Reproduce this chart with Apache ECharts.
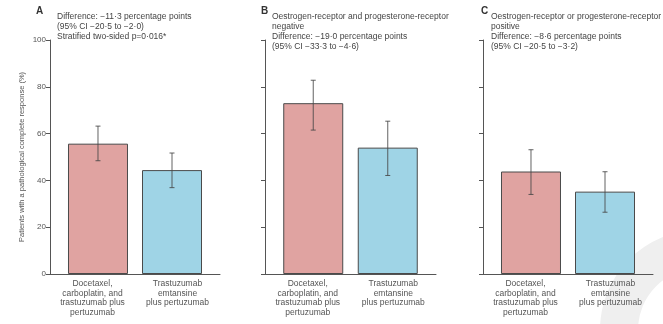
<!DOCTYPE html>
<html>
<head>
<meta charset="utf-8">
<script src="https://cdn.jsdelivr.net/npm/echarts@6/dist/echarts.min.js"></script>
<style>
html,body{margin:0;padding:0;background:#fff;}
#chart{width:663px;height:324px;}
</style>
</head>
<body>
<div id="chart"></div>
<script>
// ---- data ----
const categories = [
  "Docetaxel,\ncarboplatin, and\ntrastuzumab plus\npertuzumab",
  "Trastuzumab\nemtansine\nplus pertuzumab"
];
const panelLetters = ["A", "B", "C"];
const tchpValues = [55.7, 73.0, 43.8];
const tchpLow = [48.4, 61.5, 34.0];
const tchpHigh = [63.2, 82.8, 53.1];
const tdm1Values = [44.4, 54.0, 35.2];
const tdm1Low = [36.9, 42.1, 26.4];
const tdm1High = [51.7, 65.3, 43.7];
const yTicks = [0, 20, 40, 60, 80, 100];
const panelNotesA = ["Difference: \u221211\u00b73 percentage points", "(95% CI \u221220\u00b75 to \u22122\u00b70)", "Stratified two-sided p=0\u00b7016*"];
const panelNotesB = ["Oestrogen-receptor and progesterone-receptor", "negative", "Difference: \u221219\u00b70 percentage points", "(95% CI \u221233\u00b73 to \u22124\u00b76)"];
const panelNotesC = ["Oestrogen-receptor or progesterone-receptor", "positive", "Difference: \u22128\u00b76 percentage points", "(95% CI \u221220\u00b75 to \u22123\u00b72)"];
const yAxisTitle = "Patients with a pathological complete response (%)";

// ---- layout / style ----
const FONT = "'Liberation Sans Narrow', 'Liberation Sans', Arial, sans-serif";
const grids = [
  { left: 50, width: 170 },
  { left: 265, width: 171 },
  { left: 483, width: 170 }
];
const letterPos = [[36, 6], [261, 6], [481, 6]];
const notePos = [[57, 12], [272, 12], [491, 12]];
const panelNotes = [panelNotesA, panelNotesB, panelNotesC];
const barW = 60;
const gapRatio = -0.8167;
const shift = barW / 2 * (1 + gapRatio);
const pink = "#e0a3a1";
const blue = "#9fd4e6";
const axisColor = "#555";

const option = {
  animation: false,
  backgroundColor: "#fff",
  grid: grids.map(g => ({ left: g.left, width: g.width, top: 40, bottom: 50 })),
  xAxis: grids.map((g, i) => ({
    type: "category",
    gridIndex: i,
    data: categories,
    axisLine: { lineStyle: { color: axisColor, width: 1 } },
    axisTick: { inside: true, length: 4, lineStyle: { color: axisColor } },
    axisLabel: { color: "#555", fontSize: 8.5, fontFamily: FONT, lineHeight: 9.5, margin: 5, interval: 0 }
  })),
  yAxis: grids.map((g, i) => ({
    type: "value",
    gridIndex: i,
    min: yTicks[0],
    max: yTicks[yTicks.length - 1],
    interval: yTicks[1] - yTicks[0],
    name: i === 0 ? yAxisTitle : "",
    nameLocation: "middle",
    nameGap: 24,
    nameTextStyle: { color: "#555", fontSize: 7.5, fontFamily: FONT },
    axisLine: { show: true, lineStyle: { color: axisColor, width: 1 } },
    axisTick: { show: true, length: 4, lineStyle: { color: axisColor } },
    axisLabel: { show: i === 0, color: "#555", fontSize: 8, fontFamily: FONT, margin: 4 },
    splitLine: { show: false }
  })),
  series: [],
  graphic: []
};

function errSeries(i) {
  const lows = [tchpLow[i], tdm1Low[i]];
  const highs = [tchpHigh[i], tdm1High[i]];
  return {
    type: "custom",
    xAxisIndex: i,
    yAxisIndex: i,
    z: 5,
    data: [[0, lows[0], highs[0]], [1, lows[1], highs[1]]],
    renderItem: function (params, api) {
      const c = api.value(0);
      const lo = api.coord([c, api.value(1)]);
      const hi = api.coord([c, api.value(2)]);
      const x = lo[0] + (c === 0 ? shift : -shift);
      const cap = 2.5;
      const st = { stroke: "rgba(70,70,70,0.85)", lineWidth: 1 };
      return {
        type: "group",
        children: [
          { type: "line", shape: { x1: x, y1: lo[1], x2: x, y2: hi[1] }, style: st },
          { type: "line", shape: { x1: x - cap, y1: lo[1], x2: x + cap, y2: lo[1] }, style: st },
          { type: "line", shape: { x1: x - cap, y1: hi[1], x2: x + cap, y2: hi[1] }, style: st }
        ]
      };
    }
  };
}

for (let i = 0; i < 3; i++) {
  // series order: left slot = Trastuzumab emtansine bar (category 1), right slot = TCHP bar (category 0)
  option.series.push({
    type: "bar",
    xAxisIndex: i, yAxisIndex: i,
    barWidth: barW,
    barGap: (gapRatio * 100) + "%",
    data: ["-", tdm1Values[i]],
    itemStyle: { color: blue, borderColor: "#4a4a4a", borderWidth: 1 }
  });
  option.series.push({
    type: "bar",
    xAxisIndex: i, yAxisIndex: i,
    barWidth: barW,
    barGap: (gapRatio * 100) + "%",
    data: [tchpValues[i], "-"],
    itemStyle: { color: pink, borderColor: "#4a4a4a", borderWidth: 1 }
  });
  option.series.push(errSeries(i));

  option.graphic.push({
    type: "text",
    left: letterPos[i][0], top: letterPos[i][1],
    style: { text: panelLetters[i], fill: "#333", font: "bold 10px " + FONT }
  });
  option.graphic.push({
    type: "text",
    left: notePos[i][0], top: notePos[i][1],
    style: { text: panelNotes[i].join("\n"), fill: "#444", font: "8.5px " + FONT, lineHeight: 10 }
  });
}

// faint watermark arc in bottom-right corner
option.graphic.push({
  type: "ring",
  z: -10,
  shape: { cx: 700, cy: 330, r: 100, r0: 62 },
  style: { fill: "#efefef" }
});

const chart = echarts.init(document.getElementById("chart"), null, { renderer: "canvas" });
chart.setOption(option);
</script>
</body>
</html>
